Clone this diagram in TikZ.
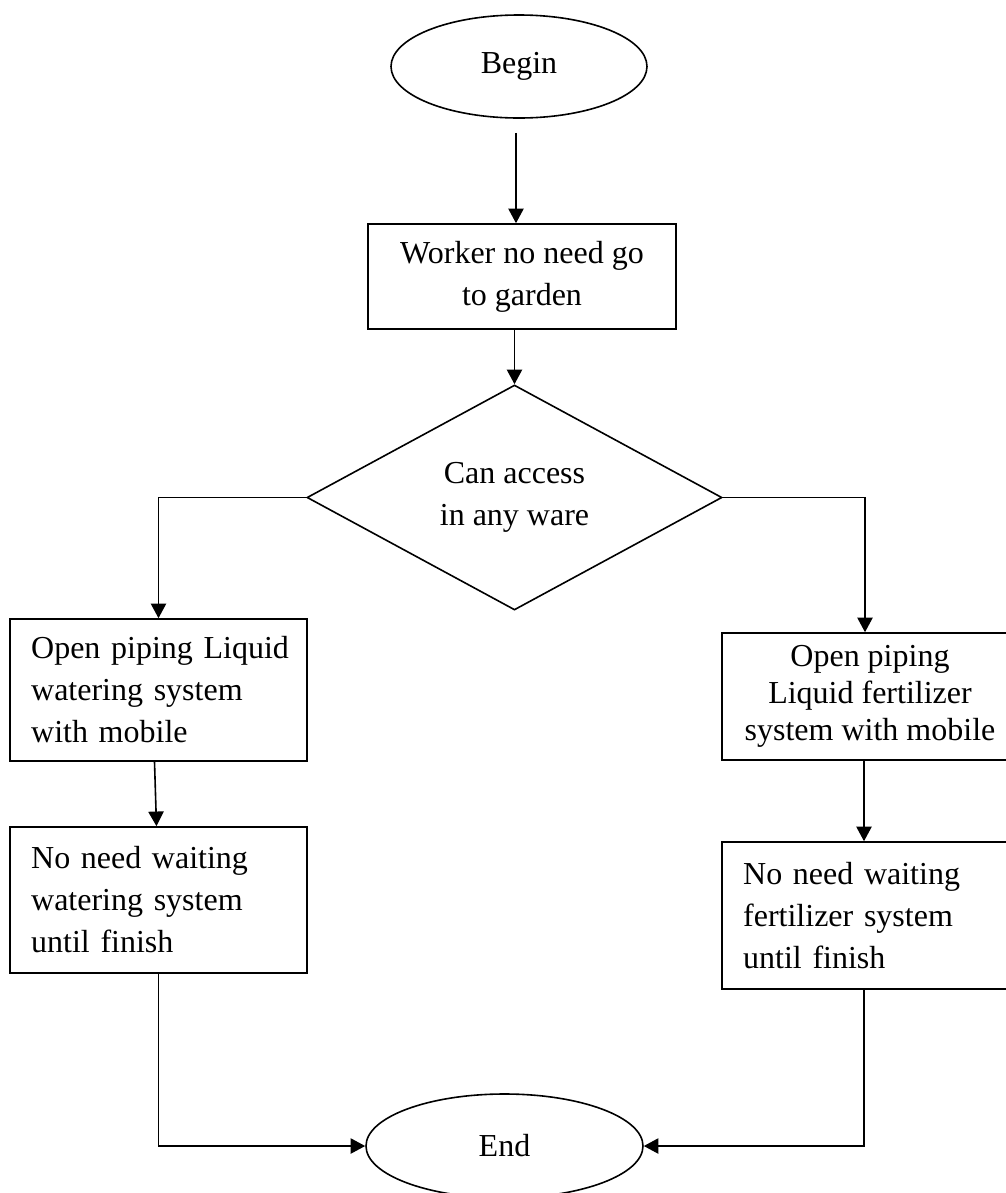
\documentclass[tikz,border=0pt]{standalone}
\usepackage{fontspec}
\setmainfont{Liberation Serif}
\usetikzlibrary{shapes.geometric,arrows.meta,calc}
\tikzset{
  base/.style={draw=black, line width=1.2pt, font=\fontsize{24}{31.5}\selectfont, inner sep=0pt},
  term/.style={base, ellipse},
  procbox/.style={base, rectangle, align=center},
  lbox/.style={base, rectangle, align=left, inner xsep=15.75pt, text width=191pt},
  decision/.style={base, diamond, align=center},
  arr/.style={line width=1.2pt, -{Triangle[length=11pt,width=11.5pt]}},
  conn/.style={line width=1.2pt}
}
\begin{document}
\begin{tikzpicture}[x=0.75pt,y=-0.75pt]
\useasboundingbox (0,0) rectangle (1006,1193);
\fill[white] (0,0) rectangle (1006,1193);
\clip (0,0) rectangle (1006,1193);

\node[term, minimum width=192pt, minimum height=77.25pt] (begin) at (519,66.5) {Begin};
\node[procbox, minimum width=231pt, minimum height=78.75pt] (worker) at (522,276.5) {Worker no need go\\to garden};
\node[decision, minimum width=311.25pt, minimum height=168.75pt] (dec) at (514.5,497.5) {Can access\\in any ware};
\node[lbox, minimum height=106.5pt] (l1) at (158.5,690) {\mbox{Open piping Liquid}\\\mbox{watering system}\\\mbox{with mobile}};
\node[lbox, minimum height=109.5pt] (l2) at (158.5,900) {\mbox{No need waiting}\\\mbox{watering system}\\\mbox{until finish}};
\node[procbox, minimum width=222pt, minimum height=95.25pt, font=\fontsize{24}{28}\selectfont] (r1) at (870,696.5) {Open piping\\Liquid fertilizer\\system with mobile};
\node[lbox, text width=190.25pt, minimum height=110.25pt] (r2) at (870,915.5) {\mbox{No need waiting}\\\mbox{fertilizer system}\\\mbox{until finish}};
\node[term, minimum width=207.75pt, minimum height=78pt] (end) at (504.5,1146) {End};

\draw[arr] ([xshift=-2.25pt,yshift=-10.5pt]begin.south) -- ([xshift=-4.5pt]worker.north);
\draw[arr] (worker.south -| dec.north) -- (dec.north);
\draw[arr] (dec.west) -| (l1.north);
\draw[arr] (dec.east) -| ([xshift=-3.75pt]r1.north);
\draw[arr] ([xshift=-3pt]l1.south) -- ([xshift=-1.5pt]l2.north);
\draw[arr] ([xshift=-4.5pt]r1.south) -- ([xshift=-4.5pt]r2.north);
\draw[arr] (l2.south) |- (end.west);
\draw[arr] ([xshift=-4.5pt]r2.south) |- (end.east);
\end{tikzpicture}
\end{document}
